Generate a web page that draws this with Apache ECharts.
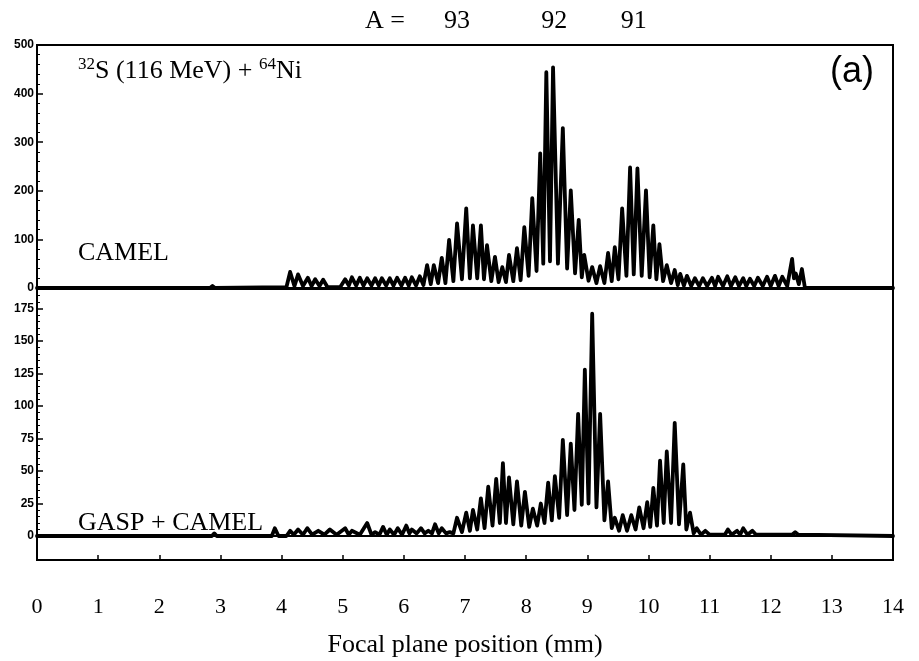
<!DOCTYPE html>
<html><head><meta charset="utf-8">
<script src="https://cdn.jsdelivr.net/npm/echarts@6/dist/echarts.min.js"></script>
<style>html,body{margin:0;padding:0;background:#fff}#c{width:919px;height:661px}</style>
</head><body><div id="c"></div>
<script>
// ---- data ----
const xTickLabels = ['0','1','2','3','4','5','6','7','8','9','10','11','12','13','14'];
const massLabels = ['93', '92', '91'];
const massPositions = [6.87, 8.46, 9.76];
const topPanelLabel = 'CAMEL';
const bottomPanelLabel = 'GASP + CAMEL';

// CAMEL spectrum (counts vs focal plane position, mm): valleys and peaks
const topX = [0, 2.83, 2.87, 2.91, 4.08, 4.14, 4.21, 4.27, 4.35, 4.43, 4.49, 4.55, 4.62, 4.68, 4.75,
  4.96, 5.04, 5.10, 5.15, 5.22, 5.28, 5.34, 5.40, 5.47, 5.53, 5.59, 5.64, 5.71, 5.77, 5.83, 5.89, 5.96,
  6.02, 6.08, 6.13, 6.20, 6.26, 6.32, 6.38, 6.44, 6.49, 6.56, 6.62, 6.68, 6.74, 6.81, 6.87, 6.95,
  7.02, 7.08, 7.13, 7.20, 7.26, 7.31, 7.36, 7.43, 7.49, 7.55, 7.61, 7.67, 7.72, 7.79, 7.85, 7.91,
  7.97, 8.04, 8.10, 8.17, 8.23, 8.28, 8.33, 8.39, 8.44, 8.52, 8.60, 8.67, 8.73, 8.80, 8.86, 8.91,
  8.95, 9.02, 9.08, 9.15, 9.21, 9.28, 9.34, 9.40, 9.45, 9.51, 9.57, 9.64, 9.70, 9.76, 9.82, 9.89,
  9.96, 10.02, 10.08, 10.13, 10.18, 10.24, 10.30, 10.37, 10.43, 10.48, 10.52, 10.58, 10.63, 10.70,
  10.76, 10.83, 10.89, 10.96, 11.04, 11.09, 11.14, 11.22, 11.29, 11.35, 11.42, 11.48, 11.55, 11.60,
  11.66, 11.73, 11.79, 11.87, 11.94, 12.00, 12.07, 12.13, 12.19, 12.27, 12.35, 12.38, 12.41, 12.46,
  12.51, 12.56, 14];
const topY = [0, 0, 4, 0, 2, 33, 4, 28, 4, 21, 4, 18, 4, 17, 2,
  2, 18, 5, 22, 5, 21, 5, 20, 5, 20, 5, 20, 5, 20, 5, 21, 5,
  21, 5, 22, 5, 24, 6, 47, 8, 47, 10, 62, 10, 99, 14, 133, 18,
  164, 20, 129, 20, 129, 18, 88, 14, 64, 12, 43, 12, 68, 14, 82, 16,
  125, 25, 185, 35, 277, 50, 444, 55, 454, 50, 329, 40, 201, 30, 140, 22,
  68, 15, 43, 10, 45, 10, 72, 14, 84, 18, 164, 25, 248, 28, 246, 25,
  201, 22, 129, 18, 90, 14, 47, 10, 37, 6, 29, 5, 25, 4,
  20, 4, 20, 4, 21, 4, 23, 4, 24, 4, 22, 4, 20, 4,
  19, 4, 21, 4, 23, 4, 25, 4, 23, 4, 60, 20, 30, 8,
  39, 0, 0];

// GASP + CAMEL spectrum
const botX = [0, 2.86, 2.90, 2.94, 3.84, 3.89, 3.95, 4.08, 4.14, 4.20, 4.27, 4.35, 4.42, 4.50, 4.60,
  4.70, 4.79, 4.90, 5.04, 5.10, 5.15, 5.28, 5.40, 5.47, 5.53, 5.60, 5.66, 5.72, 5.77, 5.84, 5.90,
  5.97, 6.04, 6.09, 6.13, 6.21, 6.28, 6.34, 6.40, 6.46, 6.51, 6.57, 6.62, 6.69, 6.75, 6.81, 6.87,
  6.95, 7.02, 7.08, 7.13, 7.20, 7.26, 7.32, 7.38, 7.45, 7.51, 7.57, 7.62, 7.67, 7.72, 7.79, 7.85,
  7.92, 7.98, 8.05, 8.11, 8.18, 8.24, 8.30, 8.36, 8.42, 8.47, 8.54, 8.60, 8.67, 8.73, 8.79, 8.85,
  8.91, 8.96, 9.02, 9.08, 9.15, 9.21, 9.28, 9.34, 9.40, 9.45, 9.52, 9.58, 9.65, 9.72, 9.79, 9.85,
  9.92, 9.98, 10.03, 10.08, 10.14, 10.19, 10.25, 10.30, 10.37, 10.43, 10.50, 10.57, 10.62, 10.68,
  10.74, 10.79, 10.86, 10.93, 11.00, 11.25, 11.30, 11.36, 11.45, 11.50, 11.55, 11.62, 11.70, 11.76,
  12.35, 12.40, 12.45, 14];
const botY = [0, 0, 2, 0, 0, 6, 0, 0, 4, 1, 5, 1, 6, 1, 4,
  1, 5, 1, 6, 1, 4, 1, 10, 1, 3, 1, 7, 1, 5, 1, 6,
  1, 8, 2, 5, 2, 6, 2, 4, 2, 9, 2, 6, 2, 3, 2, 14,
  3, 18, 4, 20, 5, 29, 6, 38, 8, 44, 10, 56, 10, 45, 9, 42,
  8, 34, 7, 21, 8, 25, 10, 41, 12, 46, 14, 74, 16, 71, 20, 94,
  24, 128, 25, 171, 22, 94, 12, 42, 6, 14, 4, 16, 4, 16, 5, 22,
  6, 26, 7, 37, 8, 58, 10, 65, 10, 87, 9, 55, 5, 18,
  2, 6, 1, 4, 1, 1, 5, 1, 4, 1, 6, 1, 4, 1,
  1, 3, 1, 0];

// ---- chart ----
const serif = '"Liberation Serif", "DejaVu Serif", serif';
const sans = '"Liberation Sans", Arial, sans-serif';
const chart = echarts.init(document.getElementById('c'), null, {renderer: 'canvas'});

const yLabel = {color: '#000', fontFamily: sans, fontWeight: 'bold', fontSize: 12, margin: 3};
const lineBlack = {show: true, lineStyle: {color: '#000', width: 2}};
const tickIn = {show: true, inside: true, length: 6, lineStyle: {color: '#000', width: 1.5}};
const minorIn = {show: true, splitNumber: 5, length: 3, lineStyle: {color: '#000', width: 1}};
const gridBase = {left: 37, width: 856, show: true, borderColor: '#000', borderWidth: 2, containLabel: false};
const traceStyle = {color: '#000', width: 3.8, join: 'round', cap: 'round'};

const option = {
  animation: false,
  backgroundColor: '#fff',
  grid: [
    Object.assign({top: 45, height: 243}, gridBase),
    Object.assign({top: 289, height: 247}, gridBase),
    Object.assign({top: 536, height: 24}, gridBase)
  ],
  xAxis: [
    {gridIndex: 0, type: 'value', min: 0, max: 14, show: false},
    {gridIndex: 1, type: 'value', min: 0, max: 14, show: false},
    {gridIndex: 2, type: 'value', min: 0, max: 14, interval: 1,
     axisLine: lineBlack, axisTick: {show: true, inside: true, length: 5, lineStyle: {color: '#000', width: 1.5}},
     splitLine: {show: false},
     axisLabel: {color: '#000', fontFamily: serif, fontSize: 22, margin: 36,
       formatter: v => xTickLabels[Math.round(v)]},
     name: 'Focal plane position (mm)', nameLocation: 'middle', nameGap: 72,
     nameTextStyle: {color: '#000', fontFamily: serif, fontSize: 26}}
  ],
  yAxis: [
    {gridIndex: 0, type: 'value', min: 0, max: 500, interval: 100,
     axisLine: lineBlack, axisTick: tickIn, minorTick: minorIn, splitLine: {show: false},
     minorSplitLine: {show: false}, axisLabel: yLabel},
    {gridIndex: 1, type: 'value', min: 0, max: 190, interval: 25,
     axisLine: lineBlack, axisTick: tickIn, minorTick: minorIn, splitLine: {show: false},
     minorSplitLine: {show: false},
     axisLabel: Object.assign({}, yLabel, {showMaxLabel: false,
       formatter: v => (v % 25 === 0 ? String(v) : '')})},
    {gridIndex: 2, type: 'value', min: 0, max: 1, show: false}
  ],
  series: [
    {type: 'line', xAxisIndex: 0, yAxisIndex: 0, showSymbol: false, symbol: 'none',
     lineStyle: traceStyle, data: topX.map((x, i) => [x, topY[i]])},
    {type: 'line', xAxisIndex: 1, yAxisIndex: 1, showSymbol: false, symbol: 'none',
     lineStyle: traceStyle, data: botX.map((x, i) => [x, botY[i]])}
  ],
  graphic: [
    {type: 'text', left: 365, top: 8, style: {text: 'A =', font: '26px ' + serif, fill: '#000'}},
    {type: 'text', left: 78, top: 56, style: {
      text: '{s|32}{n|S (116 MeV) + }{s|64}{n|Ni}', fill: '#000',
      rich: {s: {fontSize: 17, fontFamily: serif, verticalAlign: 'top', lineHeight: 17, fill: '#000'},
             n: {fontSize: 26, fontFamily: serif, lineHeight: 30, fill: '#000'}}}},
    {type: 'text', left: 830, top: 54, style: {text: '(a)', font: '36px ' + sans, fill: '#000'}},
    {type: 'text', left: 78, top: 240, style: {text: topPanelLabel, font: '26px ' + serif, fill: '#000'}},
    {type: 'text', left: 78, top: 510, style: {text: bottomPanelLabel, font: '26px ' + serif, fill: '#000'}}
  ]
};
chart.setOption(option);

// mass labels above the plot, placed through the x scale
const g = option.graphic.slice();
massLabels.forEach((m, i) => {
  const px = chart.convertToPixel({xAxisIndex: 0}, massPositions[i]);
  g.push({type: 'text', x: px, y: 8, style: {text: m, font: '26px ' + serif, fill: '#000', align: 'center'}});
});
chart.setOption({graphic: g});
</script>
</body></html>
